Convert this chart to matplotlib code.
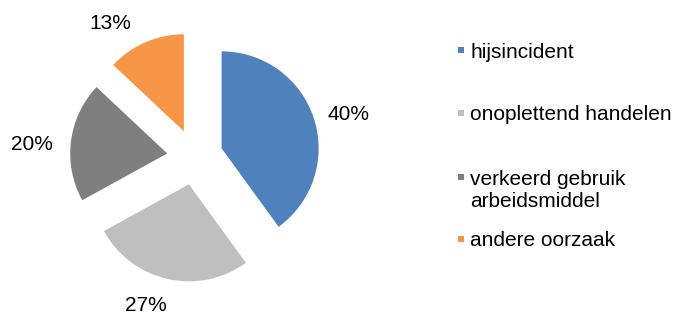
import matplotlib
matplotlib.use('Agg')
import numpy as np
import matplotlib.pyplot as plt
import matplotlib.patches as patches

plt.rcParams['font.family'] = ['Liberation Sans', 'DejaVu Sans']

# Data
causes = ['hijsincident', 'onoplettend handelen', 'verkeerd gebruik\narbeidsmiddel', 'andere oorzaak']
shares = [40, 27, 20, 13]
colors = ['#4F81BD', '#BFBFBF', '#7F7F7F', '#F79646']

# small hand tweaks of the percentage labels (data units), Excel puts them a bit off-radial
label_nudge = [(0.08, -0.03), (-0.156, 0.036), (-0.109, -0.047), (-0.241, -0.052)]

W, H = 676, 314
fig = plt.figure(figsize=(W / 100, H / 100), dpi=100)

# pie axes: centre at (195, 157) px, 100 px per data unit
cx, cy, half = 195, 157, 150
ax = fig.add_axes([(cx - half) / W, (H - cy - half) / H, 2 * half / W, 2 * half / H])
wedges, texts, autotexts = ax.pie(shares, colors=colors, startangle=90, counterclock=False,
                                  explode=[0.28] * len(shares), radius=0.97,
                                  autopct=lambda p: '{:.0f}%'.format(p), pctdistance=1.3,
                                  textprops={'fontsize': 15, 'color': '#000000'},
                                  wedgeprops={'linewidth': 0})
ax.set_xlim(-1.5, 1.5)
ax.set_ylim(-1.5, 1.5)
ax.axis('off')

for w, t, (nx, ny) in zip(wedges, autotexts, label_nudge):
    a = np.deg2rad((w.theta1 + w.theta2) / 2)
    d = 1.533
    t.set_position((d * np.cos(a) + nx, d * np.sin(a) + ny - 0.075))
    t.set_ha('center')
    t.set_va('baseline')

# Legend, laid out by hand like the original
legend_y = [50, 113, 177, 239]
for cause, col, y in zip(causes, colors, legend_y):
    fig.patches.append(patches.Rectangle((458 / W, (H - y - 3) / H), 6 / W, 6 / H,
                                         transform=fig.transFigure, facecolor=col,
                                         edgecolor='none'))
    nlines = cause.count('\n') + 1
    fig.text(470 / W, (H - y - 2 - 11.5 * (nlines - 1)) / H, cause, fontsize=15,
             va='center', ha='left', linespacing=1.25)

fig.savefig('out.png', dpi=100)
